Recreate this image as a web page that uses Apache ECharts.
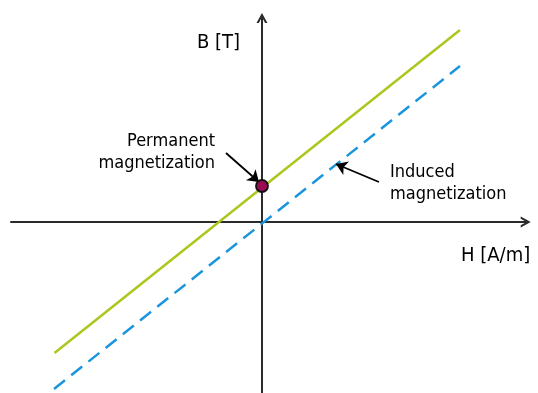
<!DOCTYPE html>
<html><head><meta charset="utf-8">
<script src="https://cdn.jsdelivr.net/npm/echarts@6/dist/echarts.min.js"></script>
<style>html,body{margin:0;padding:0;background:#fff}#c{width:538px;height:393px}</style>
</head><body><div id="c"></div>
<script>
// Data (arbitrary units, origin where axes cross)
const xRange = [-10.04, 10.55];
const yRange = [-6.84, 8.16];
const permanentLine = [[-8.3, -5.24], [7.92, 7.68]];
const inducedLine = [[-8.32, -6.68], [7.92, 6.24]];
const remanence = [[0, 1.44]];
const permanentArrow = [[-1.44, 2.76], [-0.12, 1.6]];
const inducedArrow = [[4.68, 1.6], [2.96, 2.32]];
const axisNames = ['H [A/m]', 'B [T]'];
const annotations = ['Permanent\nmagnetization', 'Induced\nmagnetization'];

const chevron = 'path://M0,10L5.5,0L11,10L8.7,10L5.5,4.2L2.3,10Z';
const FONT = '"DejaVu Sans Condensed", "DejaVu Sans", sans-serif';

function axisCfg(range) {
  return {
    type: 'value', min: range[0], max: range[1],
    axisLine: { show: true, onZero: true, symbol: ['none', chevron], symbolSize: [11, 10],
      lineStyle: { color: '#2a2a2a', width: 2 } },
    axisTick: { show: false }, axisLabel: { show: false }, splitLine: { show: false }
  };
}

const chart = echarts.init(document.getElementById('c'));
chart.setOption({
  animation: false,
  backgroundColor: '#fff',
  grid: { left: 11, right: 12.3, top: 18, bottom: 0, containLabel: false },
  xAxis: axisCfg(xRange),
  yAxis: axisCfg(yRange),
  graphic: [
    { type: 'text', left: 461, top: 246, style: { text: axisNames[0], font: '20px ' + FONT, fill: '#000' } },
    { type: 'text', left: 197, top: 33, style: { text: axisNames[1], font: '20px ' + FONT, fill: '#000' } },
    { type: 'text', x: 215, y: 152, style: { text: annotations[0], font: '18px ' + FONT, fill: '#000', align: 'right', verticalAlign: 'middle', lineHeight: 22 } },
    { type: 'text', x: 390, y: 183, style: { text: annotations[1], font: '18px ' + FONT, fill: '#000', align: 'left', verticalAlign: 'middle', lineHeight: 22 } }
  ],
  series: [
    { type: 'line', data: permanentLine, symbol: 'none', silent: true,
      lineStyle: { color: '#a9c81e', width: 2.5 }, z: 3 },
    { type: 'line', data: inducedLine, symbol: 'none', silent: true,
      lineStyle: { color: '#1b95dd', width: 2.5, type: [14, 8] }, z: 2 },
    { type: 'lines', coordinateSystem: 'cartesian2d', silent: true,
      data: [{ coords: permanentArrow }, { coords: inducedArrow }],
      symbol: ['none', 'arrow'], symbolSize: 11,
      lineStyle: { color: '#000', width: 1.8, opacity: 1 }, z: 4 },
    { type: 'scatter', data: remanence, symbolSize: 12, silent: true,
      itemStyle: { color: '#9a0a55', borderColor: '#111', borderWidth: 1.8, opacity: 1 }, z: 5 }
  ]
});
</script>
</body></html>
